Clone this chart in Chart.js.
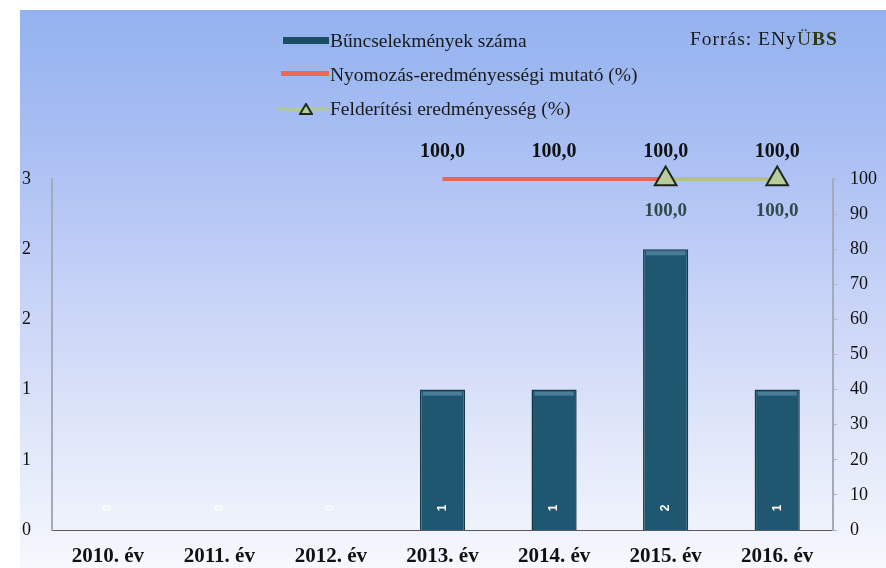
<!DOCTYPE html>
<html>
<head>
<meta charset="utf-8">
<script src="https://cdn.jsdelivr.net/npm/chart.js@4"></script>
<style>
  html, body { margin:0; padding:0; background:#fff; }
  #wrap { position:relative; width:886px; height:568px; overflow:hidden; }
  canvas { position:absolute; left:0; top:0; }
  .leg { position:absolute; font-family:"Liberation Serif", serif; font-size:19.5px; color:#1a1a1a; white-space:nowrap; line-height:1; }
  .sw { position:absolute; height:6px; }
</style>
</head>
<body>
<div id="wrap">
  <canvas id="c" width="886" height="568"></canvas>
  <div class="sw" style="left:283px; top:37px; width:46px; background:#1e4e66; height:7px;"></div>
  <div class="leg" style="left:330px; top:31px;">Bűncselekmények száma</div>
  <div class="sw" style="left:281px; top:71px; width:48px; background:#ec6a52; height:5px;"></div>
  <div class="leg" style="left:330px; top:65px;">Nyomozás-eredményességi mutató (%)</div>
  <div class="sw" style="left:277px; top:107px; width:52px; background:#b7c98c; height:4px; opacity:0.7;"></div>
  <svg style="position:absolute; left:299px; top:103px;" width="14" height="12"><polygon points="7,1 13,11 1,11" fill="#b8cc96" stroke="#1e2a1e" stroke-width="2"/></svg>
  <div class="leg" style="left:330px; top:99px;">Felderítési eredményesség (%)</div>
  <div class="leg" style="left:690px; top:29px; letter-spacing:1px;">Forrás: ENy<span style="color:#2f3a12">Ü</span><b style="color:#2f3a12">BS</b></div>
</div>
<script>
// ---- data ----
const categories = ["2010. év", "2011. év", "2012. év", "2013. év", "2014. év", "2015. év", "2016. év"];
const crimeCounts = [0, 0, 0, 1, 1, 2, 1];
const investigationRate = [null, null, null, 100, 100, 100, 100];
const detectionRate = [null, null, null, null, null, 100, 100];
const leftTickLabels = ["0", "1", "1", "2", "2", "3"];
const rightTickLabels = ["0", "10", "20", "30", "40", "50", "60", "70", "80", "90", "100"];

function fmtPct(v) { return v.toFixed(1).replace('.', ','); }

const bgPlugin = {
  id: 'bg',
  beforeDraw(chart) {
    const ctx = chart.ctx;
    ctx.save();
    ctx.fillStyle = '#ffffff';
    ctx.fillRect(0, 0, chart.width, chart.height);
    const g = ctx.createLinearGradient(0, 10, 0, 568);
    g.addColorStop(0, '#93b2ef');
    g.addColorStop(0.25, '#aabff3');
    g.addColorStop(0.5, '#c6d2f7');
    g.addColorStop(0.75, '#dfe6f9');
    g.addColorStop(1, '#f6f8fd');
    ctx.fillStyle = g;
    ctx.fillRect(20, 10, chart.width - 20, chart.height - 10);
    ctx.restore();
  }
};

const labelPlugin = {
  id: 'labels',
  afterDatasetsDraw(chart) {
    const ctx = chart.ctx;
    ctx.save();
    const barMeta = chart.getDatasetMeta(0);
    barMeta.data.forEach((el, i) => {
      const v = crimeCounts[i];
      const p = el.getProps(['x', 'y', 'base', 'width'], true);
      if (v > 0) {
        ctx.fillStyle = 'rgba(110,160,185,0.55)';
        ctx.fillRect(p.x - p.width / 2 + 3, p.y + 2, p.width - 6, 4);
      }
      ctx.save();
      ctx.translate(p.x, p.base - 22);
      ctx.rotate(-Math.PI / 2);
      ctx.fillStyle = v > 0 ? '#ffffff' : 'rgba(255,255,255,0.8)';
      ctx.font = 'bold 12px "Liberation Sans", sans-serif';
      ctx.textAlign = 'center';
      ctx.textBaseline = 'middle';
      ctx.fillText(String(v), 0, 0);
      ctx.restore();
    });
    const m1 = chart.getDatasetMeta(1);
    ctx.font = 'bold 20px "Liberation Serif", serif';
    ctx.fillStyle = '#111111';
    ctx.textAlign = 'center';
    ctx.textBaseline = 'middle';
    m1.data.forEach((el, i) => {
      const v = investigationRate[i];
      if (v === null) return;
      ctx.fillText(fmtPct(v), el.x, el.y - 27);
    });
    const m2 = chart.getDatasetMeta(2);
    ctx.font = 'bold 19px "Liberation Serif", serif';
    ctx.fillStyle = '#2e4a4a';
    m2.data.forEach((el, i) => {
      const v = detectionRate[i];
      if (v === null) return;
      ctx.fillText(fmtPct(v), el.x, el.y + 32);
    });
    ctx.restore();
  }
};

new Chart(document.getElementById('c'), {
  data: {
    labels: categories,
    datasets: [
      {
        type: 'bar',
        label: 'Bűncselekmények száma',
        data: crimeCounts,
        yAxisID: 'y',
        backgroundColor: '#1f5670',
        borderColor: '#173a4c',
        borderWidth: 1.5,
        categoryPercentage: 1,
        barPercentage: 0.405,
        order: 3
      },
      {
        type: 'line',
        label: 'Nyomozás-eredményességi mutató (%)',
        data: investigationRate,
        yAxisID: 'y1',
        borderColor: '#ea6450',
        borderWidth: 4,
        pointRadius: 0,
        pointHoverRadius: 0,
        spanGaps: false,
        clip: false,
        order: 2
      },
      {
        type: 'line',
        label: 'Felderítési eredményesség (%)',
        data: detectionRate,
        yAxisID: 'y1',
        borderColor: '#b3c27e',
        borderWidth: 4,
        pointStyle: 'triangle',
        pointRadius: 12.5,
        pointBackgroundColor: '#b8cc9c',
        pointBorderColor: '#1c261c',
        pointBorderWidth: 2,
        clip: false,
        order: 1
      }
    ]
  },
  options: {
    responsive: false,
    animation: false,
    events: [],
    layout: { padding: { left: 22, right: 0, top: 179, bottom: 0 } },
    plugins: { legend: { display: false }, tooltip: { enabled: false }, title: { display: false } },
    scales: {
      x: {
        type: 'category',
        offset: true,
        grid: { display: false, drawTicks: false },
        border: { display: true, color: '#5a5a5a', width: 1 },
        ticks: {
          color: '#111',
          font: { family: '"Liberation Serif", serif', size: 21, weight: 'bold' },
          padding: 14,
          maxRotation: 0,
          autoSkip: false
        },
        afterFit(s) { s.height = 38; }
      },
      y: {
        position: 'left',
        min: 0, max: 2.5,
        grid: { display: false, drawTicks: false },
        border: { display: true, color: '#a3abbb', width: 2 },
        ticks: {
          stepSize: 0.5,
          crossAlign: 'far',
          color: '#111',
          font: { family: '"Liberation Serif", serif', size: 18 },
          callback: (v, i) => leftTickLabels[i]
        },
        afterFit(s) { s.width = 30; }
      },
      y1: {
        position: 'right',
        min: 0, max: 100,
        grid: { display: true, drawOnChartArea: false, drawTicks: true, tickLength: 4, color: '#b0b8c8' },
        border: { display: true, color: '#a3abbb', width: 2 },
        ticks: {
          stepSize: 10,
          padding: 13,
          color: '#111',
          font: { family: '"Liberation Serif", serif', size: 18 },
          callback: (v, i) => rightTickLabels[i]
        },
        afterFit(s) { s.width = 53; }
      }
    }
  },
  plugins: [bgPlugin, labelPlugin]
});
</script>
</body>
</html>
